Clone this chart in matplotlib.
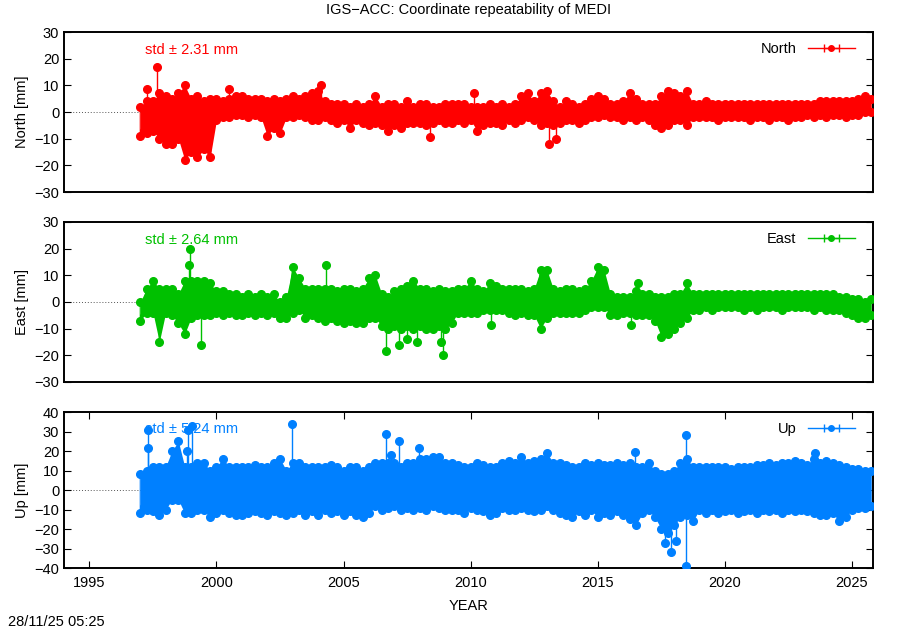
import matplotlib
matplotlib.use("Agg")
import matplotlib.pyplot as plt
import numpy as np

plt.rcParams['font.family'] = ['Liberation Sans', 'DejaVu Sans']
plt.rcParams['font.size'] = 10

# quarterly epochs, 1997.00 ... 2025.75
epochs = np.arange(1997.0, 2025.76, 0.25)

# upper / lower envelope of the daily solutions [mm] (one row per year)
north_hi = [2, 4, 4, 7,   6, 5, 7, 10,  5, 6, 4, 5,   5, 4, 5, 6,   6, 5, 5, 5,
            4, 5, 4, 5,   6, 5, 6, 7,   8, 4, 3, 3,   3, 2, 3, 2,   3, 6, 2, 3,
            3, 2, 4, 2,   3, 3, 2, 2,   3, 3, 3, 3,   2, 2, 2, 3,   2, 3, 2, 3,
            6, 7, 4, 7,   8, 4, 2, 4,   3, 2, 3, 5,   6, 5, 3, 3,   4, 7, 5, 3,
            3, 3, 6, 8,   7, 6, 8, 3,   3, 4, 3, 3,   3, 3, 3, 3,   3, 3, 3, 3,
            3, 3, 3, 3,   3, 3, 3, 4,   4, 4, 4, 4,   4, 5, 6, 5]
north_lo = [-9, -8, -7, -10,   -12, -12, -10, -18,  -15, -17, -14, -17,  -3, -2, -2, -1,
            -1, -2, -1, -2,    -9, -6, -8, -2,      -2, -1, -2, -3,      -3, -2, -3, -4,
            -3, -6, -3, -4,    -5, -4, -5, -7,      -5, -6, -4, -4,      -4, -5, -4, -3,
            -4, -4, -3, -4,    -3, -7, -5, -4,      -4, -5, -3, -4,      -3, -2, -3, -5,
            -4, -5, -4, -3,    -3, -4, -3, -2,      -2, -1, -2, -2,      -3, -2, -3, -2,
            -3, -5, -6, -5,    -3, -3, -5, -2,      -2, -2, -2, -3,      -2, -2, -2, -2,
            -3, -2, -2, -3,    -2, -2, -3, -2,      -2, -1, -2, -1,      -2, -1, -1, -2,
            -1, -1, 0, 0]
north_out_t = [1997.28, 1997.65, 2000.50, 2004.13, 2008.40, 2010.15, 2013.08, 2013.37]
north_out_v = [8.5, 16.8, 8.5, 10.0, -9.5, 7.0, -12.0, -10.0]

east_hi = [0, 5, 8, 5,   5, 5, 3, 8,   8, 8, 8, 7,   4, 4, 3, 3,   2, 3, 2, 3,
           2, 3, 0, 2,   13, 9, 5, 5,  5, 5, 5, 4,   5, 5, 4, 5,   9, 10, 3, 2,
           4, 5, 6, 8,   5, 5, 4, 5,   4, 4, 5, 5,   8, 5, 4, 7,   6, 5, 5, 5,
           5, 4, 5, 12,  12, 5, 4, 5,  5, 4, 5, 8,   13, 12, 3, 2, 2, 2, 4, 3,
           3, 2, 2, 2,   3, 3, 7, 3,   3, 3, 3, 3,   3, 3, 3, 3,   3, 3, 3, 3,
           3, 3, 3, 3,   3, 3, 3, 3,   3, 3, 2, 2,   1, 1, 0, 1]
east_lo = [-7, -4, -4, -15,   -4, -5, -8, -12,   -6, -5, -5, -5,   -4, -5, -4, -5,
           -5, -4, -5, -4,    -5, -4, -6, -6,    -4, -3, -6, -5,   -6, -7, -6, -7,
           -8, -7, -8, -8,    -6, -6, -9, -10,   -9, -10, -9, -10, -9, -10, -10, -9,
           -10, -8, -4, -4,   -4, -4, -3, -3,    -3, -3, -4, -5,   -4, -5, -5, -10,
           -6, -4, -4, -4,    -4, -4, -3, -2,    -2, -2, -5, -5,   -4, -4, -5, -5,
           -5, -7, -13, -12,  -10, -8, -6, -3,   -3, -2, -3, -2,   -2, -2, -2, -3,
           -2, -3, -2, -2,    -2, -3, -2, -2,    -2, -2, -3, -2,   -3, -3, -3, -4,
           -5, -6, -6, -5]
east_out_t = [1998.94, 1998.90, 1999.41, 2004.30, 2006.68, 2007.20, 2007.50, 2007.90,
              2008.85, 2008.90, 2010.80, 2016.30, 2016.60]
east_out_v = [20.0, 14.0, -16.0, 14.0, -18.5, -16.0, -14.0, -15.0,
              -15.0, -20.0, -8.5, -8.5, 7.0]

up_hi = [8, 10, 12, 12,   12, 20, 25, 12,   12, 14, 14, 10,   12, 16, 12, 12,
         12, 12, 13, 12,  12, 14, 16, 10,   14, 14, 12, 12,   12, 12, 13, 12,
         10, 12, 12, 10,  12, 14, 14, 14,   14, 12, 14, 14,   16, 16, 17, 17,
         14, 14, 13, 12,  12, 14, 13, 12,   12, 14, 15, 14,   17, 14, 15, 16,
         19, 14, 14, 13,  12, 12, 14, 13,   14, 13, 13, 14,   13, 14, 12, 12,
         14, 10, 8, 8,    10, 14, 16, 12,   12, 12, 12, 12,   12, 11, 12, 12,
         12, 13, 13, 14,  13, 14, 14, 15,   14, 13, 16, 14,   15, 14, 13, 12,
         11, 11, 10, 10]
up_lo = [-12, -10, -11, -13,  -10, -5, -5, -12,    -12, -10, -10, -14,  -12, -10, -12, -13,
         -13, -12, -11, -12,  -13, -11, -12, -13,  -12, -10, -13, -11,  -13, -10, -12, -11,
         -13, -11, -13, -14,  -12, -8, -10, -9,    -8, -10, -9, -10,    -9, -10, -8, -9,
         -10, -10, -10, -12,  -9, -10, -11, -13,   -12, -9, -10, -10,   -9, -10, -11, -10,
         -8, -10, -12, -13,   -14, -11, -13, -10,  -14, -12, -13, -11,  -13, -15, -18, -12,
         -10, -14, -20, -22,  -18, -14, -13, -16,  -10, -12, -10, -12,  -11, -10, -12, -11,
         -10, -12, -10, -11,  -10, -12, -10, -11,  -10, -11, -12, -13,  -13, -12, -16, -14,
         -10, -9, -9, -8]
up_out_t = [1997.30, 1997.30, 1998.86, 1998.85, 1999.05, 2002.98, 2006.68, 2006.85,
            2007.20, 2007.97, 2016.45, 2017.66, 2017.90, 2018.08, 2018.48, 2018.48, 2023.54]
up_out_v = [31.0, 21.5, 31.0, 20.0, 33.0, 34.0, 28.5, 18.0,
            25.0, 21.5, 19.5, -27.0, -32.0, -26.0, 28.0, -39.0, 19.0]

panels = [
    ("North", "North [mm]", "#ff0000", "std \u00b1 2.31 mm", north_hi, north_lo, north_out_t, north_out_v, 30),
    ("East", "East [mm]", "#00c000", "std \u00b1 2.64 mm", east_hi, east_lo, east_out_t, east_out_v, 30),
    ("Up", "Up [mm]", "#0080ff", "std \u00b1 5.24 mm", up_hi, up_lo, up_out_t, up_out_v, 40),
]
boxes = [[0.0711, 0.6952, 0.8989, 0.254],
         [0.0711, 0.3937, 0.8989, 0.254],
         [0.0711, 0.0984, 0.8989, 0.2476]]

fig = plt.figure(figsize=(9, 6.3), dpi=100)

for (name, ylab, col, stdtxt, hi, lo, ot, ov, lim), box in zip(panels, boxes):
    ax = fig.add_axes(box)
    hi = np.array(hi, dtype=float)
    lo = np.array(lo, dtype=float)

    ax.axhline(0, color="#555555", lw=0.7, ls=(0, (1, 2)), zorder=1)

    # band of daily solutions
    ax.fill_between(epochs, lo, hi, color=col, lw=0, zorder=2)
    xs = np.repeat(epochs, 2)
    ys = np.column_stack([hi, lo]).ravel()
    ax.plot(xs, ys, '-', color=col, lw=0.8, marker='o', ms=5.5, mec=col, zorder=3)

    # isolated outliers
    ax.vlines(ot, 0, ov, color=col, lw=1, zorder=2)
    ax.plot(ot, ov, 'o', color=col, ms=5.5, zorder=3)

    # legend sample like gnuplot key
    h = ax.errorbar([np.nan], [np.nan], xerr=[1], fmt='-o', color=col, ms=4,
                    lw=1, ecolor=col, elinewidth=1, capsize=3, label=name)
    leg = ax.legend(loc='upper right', frameon=False, markerfirst=False,
                    handlelength=3.2, fontsize=10.5, borderaxespad=0.3,
                    bbox_to_anchor=(1 - 8 / 809, 1))

    ax.text(0.1, 0.89, stdtxt, transform=ax.transAxes, color=col,
            fontsize=10.5, va='center', ha='left')

    ax.set_xlim(1994, 2025.83)
    ax.set_ylim(-lim, lim)
    ax.set_yticks(np.arange(-lim, lim + 1, 10))
    ax.set_ylabel(ylab, fontsize=10.5, labelpad=4)
    ax.tick_params(axis='y', direction='in', right=True, length=5, labelsize=10.5)
    for s in ax.spines.values():
        s.set_linewidth(1.4)
    if name == "Up":
        ax.set_xticks([1995, 2000, 2005, 2010, 2015, 2020, 2025])
        ax.tick_params(axis='x', direction='in', top=True, length=5, labelsize=10.5, pad=6)
        ax.set_xlabel("YEAR", fontsize=10.5, labelpad=6)
    else:
        ax.set_xticks([])

fig.text(0.5206, 1 - 10 / 630, "IGS\u2212ACC: Coordinate repeatability of MEDI",
         ha='center', va='center', fontsize=10.5)
fig.text(8 / 900, 1 - 622 / 630, "28/11/25 05:25", ha='left', va='center', fontsize=10.5)

fig.savefig("out.png", dpi=100)
